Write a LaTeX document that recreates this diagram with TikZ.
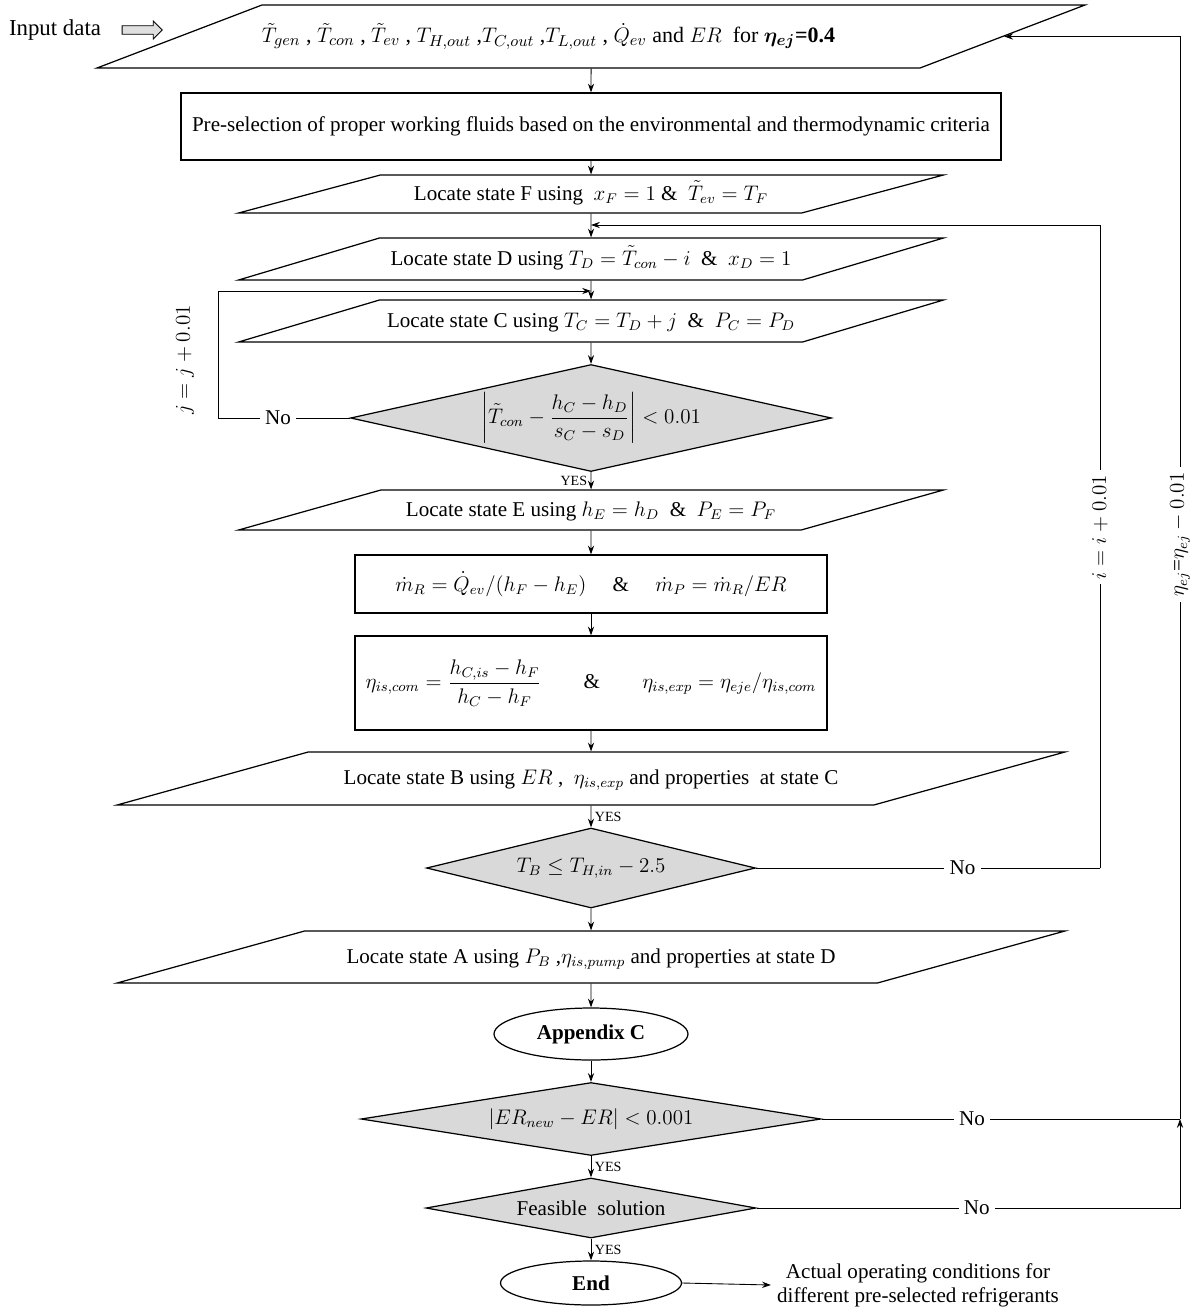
\documentclass[tikz,border=0pt]{standalone}
\usepackage{amsmath,amssymb}
\usepackage{fontspec}
\setmainfont{Liberation Serif}
\usetikzlibrary{shapes.geometric,shapes.arrows,arrows.meta}

\begin{document}
\begin{tikzpicture}[x=0.02cm,y=-0.02cm,
  font=\fontsize{12}{14}\selectfont,
  shp/.style={draw,line width=0.7pt,inner sep=0pt},
  iobox/.style 2 args={shp,trapezium,trapezium stretches body,
    trapezium left angle=#1,trapezium right angle=#2},
  procbox/.style={shp,rectangle},
  testbox/.style={shp,diamond,fill=gray!30},
  termbox/.style={shp,ellipse},
  arr/.style={line width=0.5pt,-{Stealth[length=5pt,width=3.5pt]}},
  ln/.style={line width=0.5pt},
  lab/.style={fill=white,inner sep=3pt},
  yes/.style={font=\fontsize{8}{9}\selectfont,inner sep=2pt}]
  \useasboundingbox (0,0) rectangle (1199,1312);

  \node (inLbl) at (55,30) {\fontsize{13}{15}\selectfont Input data};
  \node[draw,single arrow,fill=gray!25,line width=0.5pt,minimum height=0.8cm,
    single arrow head extend=2.6pt,inner sep=2.2pt]
    (inArr) at (140,30) {};

  \node[iobox={20.9}{159.1},minimum width=19.6cm,text height=0.75cm,text depth=0.51cm] (In) at (591,36.5)
    {\fontsize{12.5}{14}\selectfont$\tilde T_{gen}$ , $\tilde T_{con}$ , $\tilde T_{ev}$ , $T_{H,out}$ ,$T_{C,out}$ ,$T_{L,out}$ , $\dot Q_{ev}$ and $ER$\ \ for $\boldsymbol{\eta_{ej}}$\textbf{=0.4}\hspace*{1.7cm}};
  \node[procbox,minimum width=16.4cm,minimum height=1.34cm] (Pre) at (591,126.5)
    {Pre-selection of proper working fluids based on the environmental and thermodynamic criteria};
  \node[iobox={15}{165},minimum width=14.1cm,text height=0.5cm,text depth=0.26cm] (F) at (591,194)
    {Locate state F using\ \ $x_F = 1$\ \&\ \ $\tilde T_{ev} = T_F$};
  \node[iobox={16.6}{163.4},minimum width=14.1cm,text height=0.54cm,text depth=0.3cm] (D) at (591,259)
    {Locate state D using $T_D = \tilde T_{con} - i$\ \ \&\ \ $x_D = 1$};
  \node[iobox={16.6}{163.4},minimum width=14.1cm,text height=0.54cm,text depth=0.3cm] (C) at (591,321)
    {Locate state C using $T_C = T_D + j$\ \ \&\ \ $P_C = P_D$};
  \node[testbox,minimum width=9.62cm,minimum height=2.14cm,aspect=4.5] (D1) at (591,418)
    {$\left|\tilde T_{con} - \dfrac{h_C - h_D}{s_C - s_D}\right| < 0.01$};
  \node[iobox={15.7}{164.3},minimum width=14.1cm,text height=0.52cm,text depth=0.28cm] (E) at (591,510)
    {Locate state E using $h_E = h_D$\ \ \&\ \ $P_E = P_F$};
  \node[procbox,minimum width=9.44cm,minimum height=1.16cm] (R1) at (591,584)
    {$\dot{m}_R = \dot{Q}_{ev}/(h_F - h_E)$\quad\ \&\quad\ $\dot{m}_P = \dot{m}_R/ER$};
  \node[procbox,minimum width=9.44cm,minimum height=1.88cm] (R2) at (591,683)
    {$\eta_{is,com} = \dfrac{h_{C,is} - h_F}{h_C - h_F}$\qquad\&\qquad$\eta_{is,exp} = \eta_{eje}/\eta_{is,com}$};
  \node[iobox={15.5}{164.5},minimum width=18.96cm,text height=0.65cm,text depth=0.41cm] (B) at (591,778.5)
    {Locate state B using $ER$ ,\ \ $\eta_{is,exp}$\ and properties\ \ at state C};
  \node[testbox,minimum width=6.58cm,minimum height=1.6cm,aspect=4.1] (D2) at (591,868)
    {$T_B \le T_{H,in} - 2.5$};
  \node[iobox={15.5}{164.5},minimum width=18.96cm,text height=0.64cm,text depth=0.4cm] (A) at (591,957)
    {Locate state A using $P_B$ ,$\eta_{is,pump}$ and properties at state D};
  \node[termbox,minimum width=3.88cm,minimum height=1.04cm] (App) at (591,1034)
    {\textbf{Appendix C}};
  \node[testbox,minimum width=9.2cm,minimum height=1.46cm,aspect=6.3] (D3) at (591,1119)
    {$|ER_{new} - ER| < 0.001$};
  \node[testbox,minimum width=6.6cm,minimum height=1.2cm,aspect=5.5] (D4) at (591,1208)
    {Feasible\ \ solution};
  \node[termbox,minimum width=3.62cm,minimum height=0.88cm] (End) at (591,1283)
    {\textbf{End}};
  \node[align=center,font=\fontsize{12}{13.5}\selectfont] (Out) at (918,1285)
    {Actual operating conditions for\\different pre-selected refrigerants};

  \coordinate (iIn) at (591,225);
  \coordinate (iRail) at (1100,868);
  \coordinate (jIn) at (591,291);
  \coordinate (jRail) at (218,418);
  \coordinate (eRail) at (1180,1119);
  \coordinate (eLow) at (1180,1208);

  \draw[arr] (In.south) -- (Pre.north);
  \draw[arr] (Pre.south) -- (F.north);
  \draw[arr] (F.south) -- (D.north);
  \draw[arr] (D.south) -- (C.north);
  \draw[arr] (C.south) -- (D1.north);
  \draw[arr] (D1.south) -- node[yes,left] (yes1) {YES} (E.north);
  \draw[arr] (E.south) -- (R1.north);
  \draw[arr] (R1.south) -- (R2.north);
  \draw[arr] (R2.south) -- (B.north);
  \draw[arr] (B.south) -- node[yes,right] (yes2) {YES} (D2.north);
  \draw[arr] (D2.south) -- (A.north);
  \draw[arr] (A.south) -- (App.north);
  \draw[arr] (App.south) -- (D3.north);
  \draw[arr] (D3.south) -- node[yes,right] (yes3) {YES} (D4.north);
  \draw[arr] (D4.south) -- node[yes,right] (yes4) {YES} (End.north);
  \draw[arr] (End.east) -- (Out.west);

  \draw[arr] (D1.west) -- node[lab,pos=0.545] (noJ) {No} (jRail) |- (jIn);
  \node[rotate=90] (jLbl) at (185,360) {$j = j + 0.01$};

  \draw[ln] (D2.east) -- node[lab,pos=0.6] (noI) {No} (iRail);
  \draw[arr] (iRail) -- node[lab,rotate=90,pos=0.53] (iLbl) {$i = i + 0.01$} (iRail |- iIn) -- (iIn);

  \draw[ln] (D3.east) -- node[lab,pos=0.42] (noE1) {No} (eRail);
  \draw[arr] (D4.east) -- node[lab,pos=0.52] (noE2) {No} (eLow) -- (eRail);
  \draw[arr] (eRail) |- node[lab,rotate=90,pos=0.27] (eLbl) {$\eta_{ej}$=$\eta_{ej} - 0.01$} (In.east);
\end{tikzpicture}
\end{document}
